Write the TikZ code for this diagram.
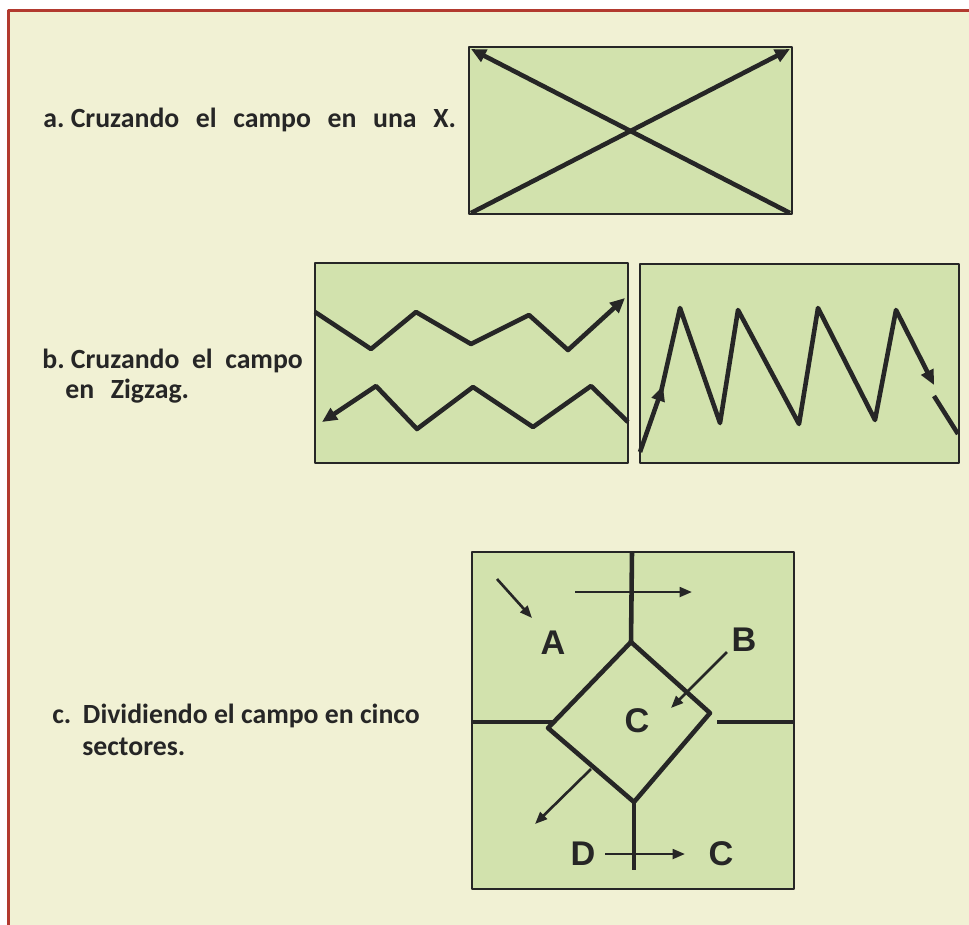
\documentclass[tikz,border=0pt]{standalone}
\usepackage{fontspec}
\setmainfont{Carlito}
\newfontfamily\arialb{Liberation Sans}
\usetikzlibrary{arrows.meta}
\definecolor{fondo}{HTML}{F1F1D4}
\definecolor{verdecampo}{HTML}{D2E2AD}
\definecolor{borderojo}{HTML}{B23A2F}
\definecolor{trazo}{HTML}{262626}
\newcommand{\espacio}{\hspace{0.6em}}

\begin{document}
\begin{tikzpicture}[x=0.02cm,y=-0.02cm,line join=round,
  >={Triangle[length=8.5pt,width=7.5pt]},
  cancha/.style={fill=verdecampo,draw=trazo,line width=1.2pt},
  ruta/.style={draw=trazo,line width=2.6pt},
  flecha/.style={draw=trazo,line width=1.5pt,-{Triangle[length=7pt,width=5.5pt]}},
  rotulo/.style={font=\fontsize{15.8}{19}\selectfont\bfseries,text=trazo,anchor=base west,inner sep=0pt},
  letra/.style={font=\arialb\fontsize{19.5}{22}\selectfont\bfseries,text=trazo,inner sep=0pt}]
\useasboundingbox (0,0) rectangle (969,924);
% fondo con borde rojo (solo visible arriba y a la izquierda)
\fill[white] (0,0) rectangle (969,924);
\draw[fill=fondo,draw=borderojo,line width=1.8pt] (8.5,10.5) rectangle (990,950);

% a. campo cruzado en X
\draw[cancha] (469,47) rectangle (792,214);
\draw[ruta,->] (471,213) -- (790,49);
\draw[ruta,->] (790,213) -- (471,49);
\node[rotulo] (txta) at (43,127) {a.\ Cruzando\espacio el\espacio campo\espacio en\espacio una\espacio X.};

% b. zigzag horizontal
\draw[cancha] (315,263) rectangle (628,463);
\draw[ruta,->] (315,312) -- (371,349) -- (416,312) -- (471,344) -- (529,315)
  -- (568,350) -- (625,298);
\draw[ruta,->] (628,422) -- (591,386) -- (533,427) -- (473,387) -- (417,429)
  -- (376,386) -- (322,422);
% b. zigzag vertical
\draw[cancha] (640,264) rectangle (959,463);
\draw[ruta,->] (640,452) -- (663,386);
\draw[ruta,->] (661,392) -- (680,308) -- (720,423) -- (738,310) -- (799,424)
  -- (818,308) -- (875,420) -- (896,310) -- (934,385);
\draw[ruta] (934,396) -- (958,434);
\node[rotulo] (txtb) at (42,368) {b.\ Cruzando\hspace{0.45em}el\hspace{0.45em}campo};
\node[rotulo] (txtb2) at (65,398) {en\espacio Zigzag.};

% c. cinco sectores
\draw[cancha] (472,552) rectangle (794,889);
\draw[ruta] (632,552) -- (631,642);
\draw[ruta] (631,642) -- (710,713) -- (634,802) -- (548,728) -- cycle;
\draw[ruta] (472,722) -- (553,722);
\draw[ruta] (717,722) -- (794,722);
\draw[ruta] (634,802) -- (634,870);
\draw[flecha] (575,592) -- (692,592);
\draw[flecha] (497,579) -- (532,618);
\draw[flecha] (727,652) -- (671,708);
\draw[flecha] (591,769) -- (535,824);
\draw[flecha] (605,854) -- (685,854);
\node[letra] (secA) at (553,643) {A};
\node[letra] (secB) at (744,640) {B};
\node[letra] (secC) at (637,721) {C};
\node[letra] (secD) at (583,854) {D};
\node[letra] (secC2) at (721,854) {C};
\node[rotulo] (txtc) at (52,723) {c.\hspace{0.42em}Dividiendo el campo en cinco};
\node[rotulo] (txtc2) at (82,755) {sectores.};
\end{tikzpicture}
\end{document}
